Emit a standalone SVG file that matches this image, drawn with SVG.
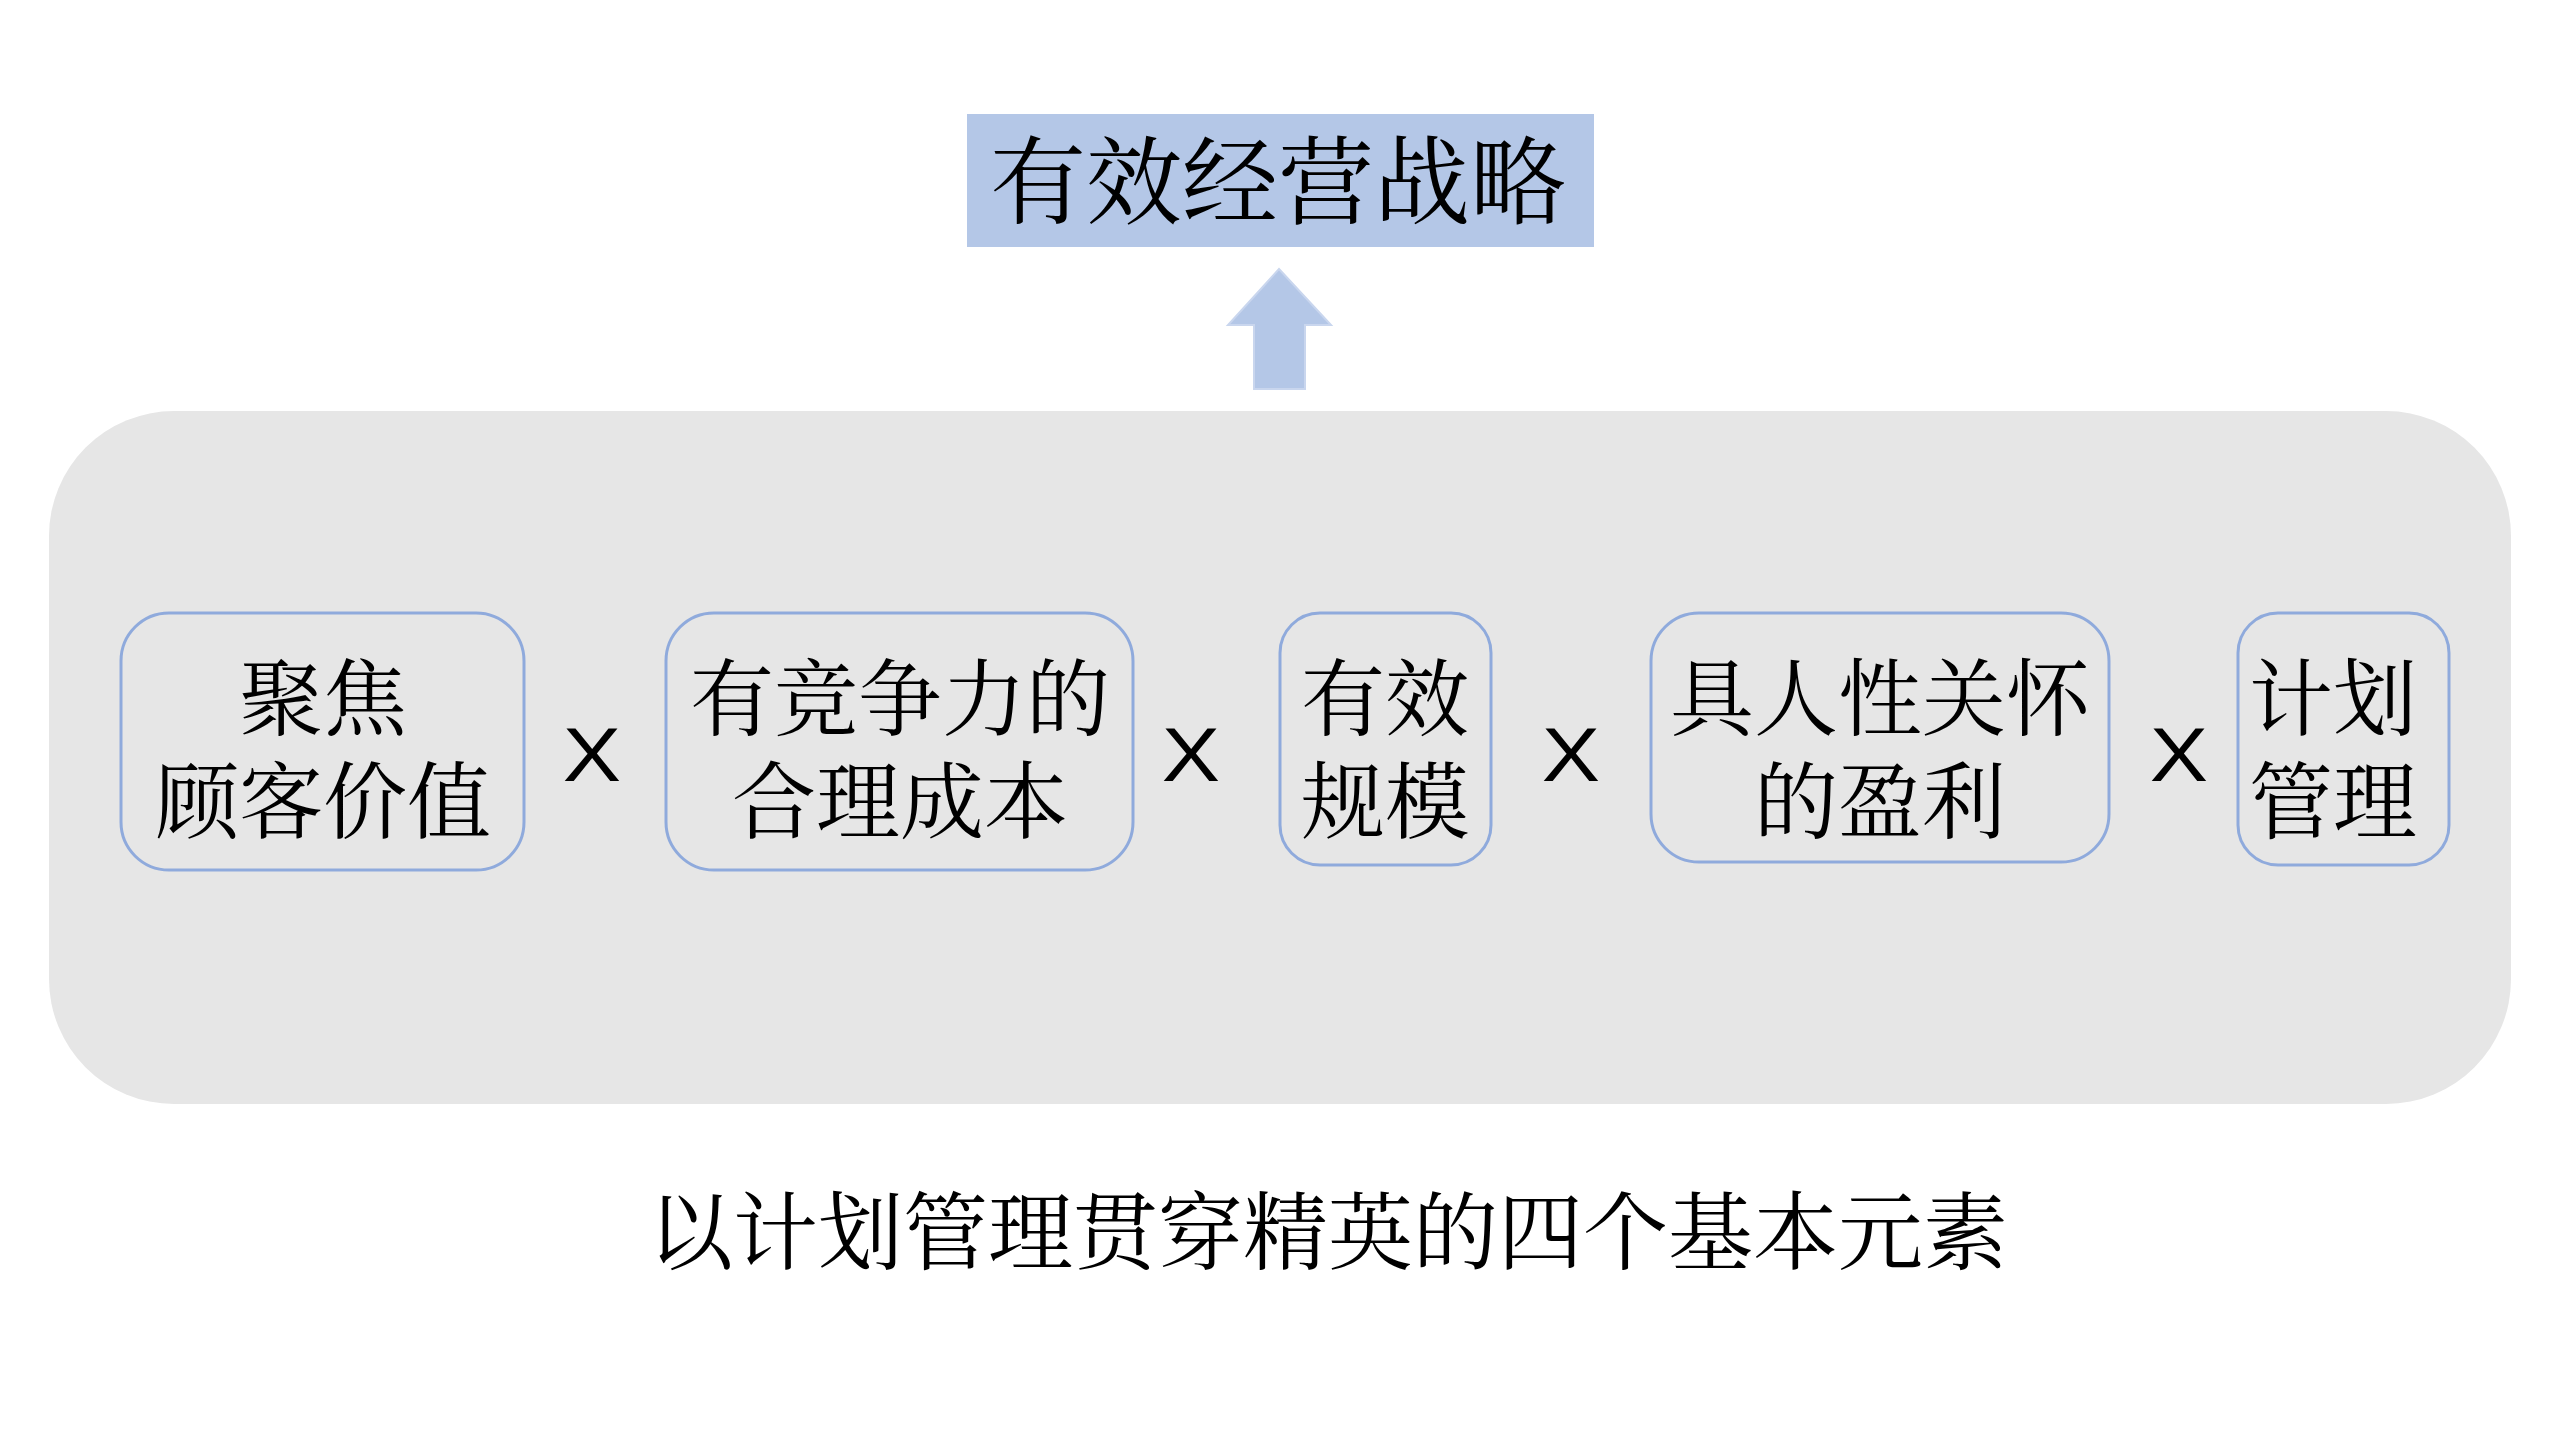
<svg xmlns="http://www.w3.org/2000/svg" width="2560" height="1440" viewBox="0 0 2560 1440">
<style>
.cjk{font-family:"Noto Serif CJK SC","Liberation Serif","Noto Sans CJK SC",serif;fill:#000;text-anchor:middle}
.node rect{fill:#E6E6E6;stroke:#8FAADC;stroke-width:3}
.node text{font-size:84px}
.op{font-family:"Liberation Sans",Arial,sans-serif;font-size:76px;fill:#000;text-anchor:middle}
</style>
<rect width="2560" height="1440" fill="#FFFFFF"/>
<g id="title">
<rect x="967" y="114" width="627" height="133" fill="#B4C7E7"/>
<text class="cjk" x="1278" y="216" font-size="96">有效经营战略</text>
</g>
<g id="connectors">
<polygon points="1279,269 1331,325 1305,325 1305,389 1254,389 1254,325 1228,325" fill="#B4C7E7" stroke="#C9D6EE" stroke-width="2"/>
</g>
<g id="container">
<rect x="49" y="411" width="2462" height="693" rx="125" ry="125" fill="#E6E6E6"/>
</g>
<g id="node1" class="node">
<rect x="121" y="613" width="403" height="257" rx="48"/>
<text class="cjk"><tspan x="323" y="729">聚焦</tspan><tspan x="323" y="832">顾客价值</tspan></text>
</g>
<text class="op" transform="translate(592,781) scale(1.15,1)">X</text>
<g id="node2" class="node">
<rect x="666" y="613" width="467" height="257" rx="48"/>
<text class="cjk"><tspan x="900" y="729">有竞争力的</tspan><tspan x="900" y="832">合理成本</tspan></text>
</g>
<text class="op" transform="translate(1191,781) scale(1.15,1)">X</text>
<g id="node3" class="node">
<rect x="1280" y="613" width="211" height="252" rx="40"/>
<text class="cjk"><tspan x="1385" y="729">有效</tspan><tspan x="1385" y="832">规模</tspan></text>
</g>
<text class="op" transform="translate(1571,781) scale(1.15,1)">X</text>
<g id="node4" class="node">
<rect x="1651" y="613" width="458" height="249" rx="48"/>
<text class="cjk"><tspan x="1880" y="729">具人性关怀</tspan><tspan x="1880" y="832">的盈利</tspan></text>
</g>
<text class="op" transform="translate(2179,781) scale(1.15,1)">X</text>
<g id="node5" class="node">
<rect x="2238" y="613" width="211" height="252" rx="40"/>
<text class="cjk"><tspan x="2333" y="729">计划</tspan><tspan x="2333" y="832">管理</tspan></text>
</g>
<g id="caption">
<text class="cjk" x="1328" y="1263" font-size="85">以计划管理贯穿精英的四个基本元素</text>
</g>
</svg>
